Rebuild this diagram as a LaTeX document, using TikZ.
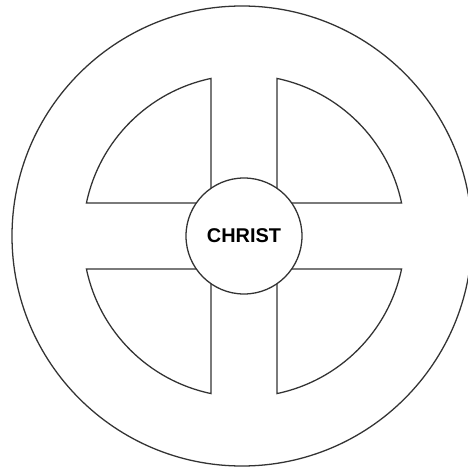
\documentclass[tikz,border=0pt]{standalone}
\usepackage{fontspec}
\newfontfamily\labelfont{Liberation Sans}
\tikzset{
  rim/.style={draw=black!80, line width=1.1pt},
  christ/.style={circle, rim, fill=white, minimum size=3.48cm, inner sep=0pt,
    font=\labelfont\bfseries\fontsize{17}{17}\selectfont}
}
\begin{document}
\begin{tikzpicture}[x=0.03cm, y=0.03cm]
  \useasboundingbox (-244,-233) rectangle (223,236);
  % Aussenring
  \draw[rim] (-2,0) circle[radius=230];
  % vier Viertelstuecke
  \foreach \r in {0,90,180,270} {
    \draw[rim, rotate=\r] (33,33) -- (78.17:161)
      arc[start angle=78.17, end angle=11.83, radius=161] -- cycle;
  }
  % Mitte
  \node[christ] (christ) at (0,0) {CHRIST};
\end{tikzpicture}
\end{document}
